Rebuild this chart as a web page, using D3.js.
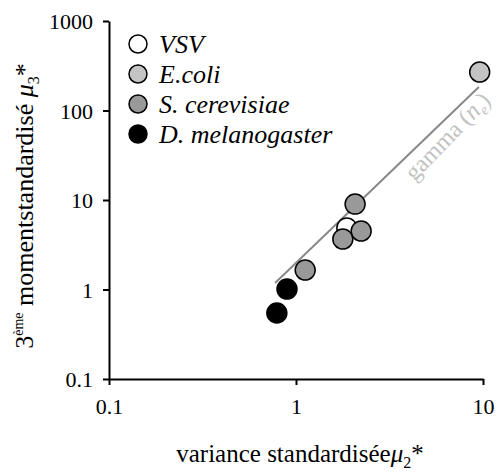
<!DOCTYPE html>
<html>
<head>
<meta charset="utf-8">
<script src="https://cdn.jsdelivr.net/npm/d3@7"></script>
<style>
  body { margin: 0; background: #fff; }
</style>
</head>
<body>
<svg id="chart" width="497" height="472"></svg>
<script>
// legend / series names
var species = ['VSV', 'E.coli', 'S. cerevisiae', 'D. melanogaster'];

// points (x = mu2*, y = mu3*)
var vsvX = [1.87];
var vsvY = [4.86];
var ecoliX = [9.6];
var ecoliY = [269];
var scerX = [2.07, 2.23, 1.78, 1.12];
var scerY = [9.0, 4.5, 3.66, 1.65];
var dmelX = [0.895, 0.79];
var dmelY = [1.01, 0.546];

// gamma line end points
var gammaX = [0.773, 9.5];
var gammaY = [1.18, 183];

var xTicks = [0.1, 1, 10];
var yTicks = [0.1, 1, 10, 100, 1000];

var fills = ['#ffffff', '#c4c4c4', '#999999', '#000000'];
var FONT = "'Liberation Serif', serif";

var margin = { top: 21, right: 14, bottom: 93, left: 109 };
var width = 497 - margin.left - margin.right;   // 374
var height = 472 - margin.top - margin.bottom;  // 358

var svg = d3.select('#chart').append('g')
  .attr('transform', 'translate(' + margin.left + ',' + margin.top + ')');

var xScale = d3.scaleLog().domain([0.1, 10]).range([0, width]);
var yScale = d3.scaleLog().domain([0.1, 1000]).range([height, 0]);

var fmt = function (d) { return String(d); };

// axes
var xAxis = d3.axisBottom(xScale).tickValues(xTicks).tickFormat(fmt).tickSize(6).tickSizeOuter(0);
var yAxis = d3.axisLeft(yScale).tickValues(yTicks).tickFormat(fmt).tickSize(6).tickSizeOuter(0);

var gx = svg.append('g')
  .attr('transform', 'translate(0,' + height + ')')
  .call(xAxis);
var gy = svg.append('g').call(yAxis);

[gx, gy].forEach(function (g) {
  g.attr('font-family', null);
  g.selectAll('path, line').attr('stroke', '#000').attr('stroke-width', 2);
  g.selectAll('text')
    .attr('fill', '#000')
    .style('font-family', FONT)
    .style('font-size', '22px');
});
gx.selectAll('text').attr('dy', '1.2em');
gy.selectAll('text').attr('x', -16).attr('dy', '0.35em');

// gamma line
var line = d3.line()
  .x(function (d) { return xScale(d[0]); })
  .y(function (d) { return yScale(d[1]); });

svg.append('path')
  .datum(d3.zip(gammaX, gammaY))
  .attr('d', line)
  .attr('fill', 'none')
  .attr('stroke', '#888')
  .attr('stroke-width', 2);

// label along the line
var glab = svg.append('text')
  .attr('transform', 'translate(' + xScale(4.3) + ',' + yScale(16) + ') rotate(-46)')
  .attr('fill', '#c2c2c2')
  .style('font-family', FONT)
  .style('font-size', '24px');
glab.append('tspan').text('gamma (');
glab.append('tspan').style('font-style', 'italic').text('n');
glab.append('tspan').style('font-size', '15px').attr('dy', 5).style('font-style', 'italic').text('e');
glab.append('tspan').attr('dy', -5).text(')');

// points, VSV drawn first so the others overlap it
var series = [
  { x: vsvX, y: vsvY, fill: fills[0] },
  { x: ecoliX, y: ecoliY, fill: fills[1] },
  { x: scerX, y: scerY, fill: fills[2] },
  { x: dmelX, y: dmelY, fill: fills[3] }
];

series.forEach(function (s) {
  svg.selectAll(null)
    .data(d3.zip(s.x, s.y))
    .enter()
    .append('circle')
    .attr('cx', function (d) { return xScale(d[0]); })
    .attr('cy', function (d) { return yScale(d[1]); })
    .attr('r', 10)
    .attr('fill', s.fill)
    .attr('stroke', '#000')
    .attr('stroke-width', 1.5);
});

// legend
var legend = svg.selectAll('.legend')
  .data(species)
  .enter()
  .append('g')
  .attr('class', 'legend')
  .attr('transform', function (d, i) { return 'translate(29,' + (23 + i * 30) + ')'; });

legend.append('circle')
  .attr('r', 9)
  .attr('fill', function (d, i) { return fills[i]; })
  .attr('stroke', '#000')
  .attr('stroke-width', 1.5);

legend.append('text')
  .attr('x', 21)
  .attr('dy', '0.33em')
  .style('font-family', FONT)
  .style('font-size', '26px')
  .style('font-style', 'italic')
  .text(function (d) { return d; });

// x axis title
var xt = svg.append('text')
  .attr('x', width / 2 + 4)
  .attr('y', height + 83)
  .attr('text-anchor', 'middle')
  .style('font-family', FONT)
  .style('font-size', '25px');
xt.append('tspan').text('variance standardisée');
xt.append('tspan').style('font-style', 'italic').text('\u03bc');
xt.append('tspan').style('font-size', '16px').attr('dy', 6).text('2');
xt.append('tspan').attr('dy', -6).text('*');

// y axis title
var yt = svg.append('text')
  .attr('transform', 'rotate(-90)')
  .attr('x', -height / 2 - 6)
  .attr('y', -76)
  .attr('text-anchor', 'middle')
  .style('font-family', FONT)
  .style('font-size', '26px');
yt.append('tspan').text('3');
yt.append('tspan').style('font-size', '14px').attr('dy', -10).text('ème');
yt.append('tspan').attr('dy', 10).text(' momentstandardisé ');
yt.append('tspan').style('font-style', 'italic').text('\u03bc');
yt.append('tspan').style('font-size', '16px').attr('dy', 6).text('3');
yt.append('tspan').attr('dy', -6).text('*');
</script>
</body>
</html>
